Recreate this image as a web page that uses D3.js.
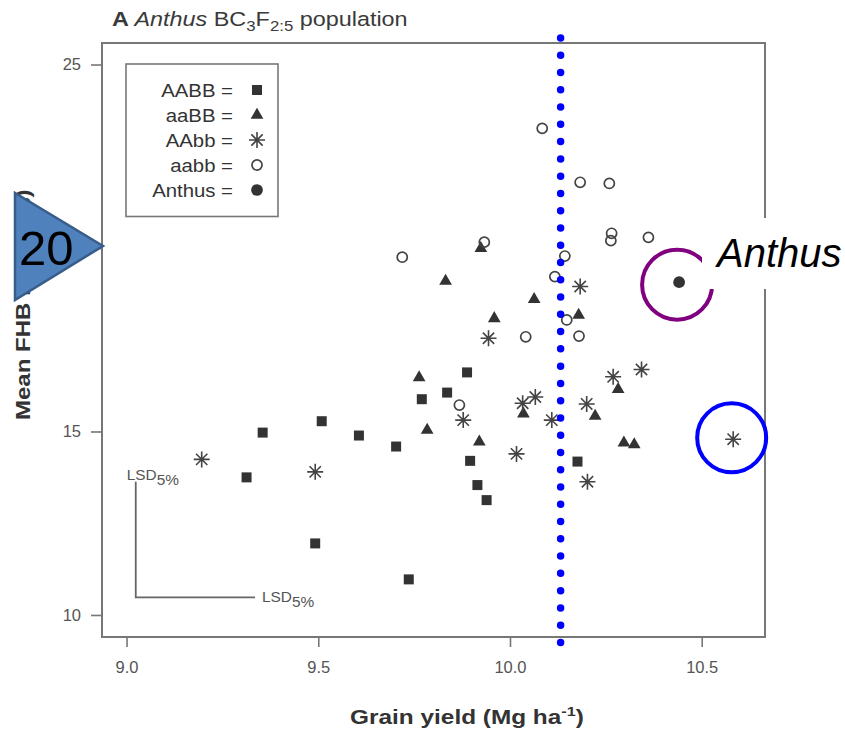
<!DOCTYPE html>
<html>
<head>
<meta charset="utf-8">
<script src="https://cdn.jsdelivr.net/npm/d3@7"></script>
<style>
  body { margin: 0; background: #fff; }
  svg { display: block; }
  text { font-family: "Liberation Sans", Arial, Helvetica, sans-serif; }
</style>
</head>
<body>
<svg id="chart" width="845" height="731"></svg>
<script>
// Genotype classes of the Anthus BC3F2:5 population
const genotypes = ["AABB", "aaBB", "AAbb", "aabb", "Anthus"];

// Grain yield (Mg ha-1) and mean FHB (%) per line, by genotype class
const yieldAABB = [9.355, 9.313, 9.509, 9.606, 9.703, 9.770, 9.836, 9.888, 9.896, 9.915, 9.939, 9.492, 9.736, 10.176];
const fhbAABB   = [14.97, 13.75, 15.28, 14.89, 14.59, 15.88, 16.06, 16.61, 14.20, 13.54, 13.13, 11.95, 10.97, 14.18];

const yieldaaBB = [9.924, 9.832, 10.063, 9.959, 9.763, 9.784, 9.920, 10.035, 10.179, 10.222, 10.282, 10.297, 10.324];
const fhbaaBB   = [19.99, 19.10, 18.60, 18.08, 16.47, 15.04, 14.72, 15.48, 18.17, 15.42, 16.15, 14.69, 14.64];

const yieldAAbb = [9.196, 9.492, 9.878, 9.944, 10.017, 10.033, 10.066, 10.109, 10.183, 10.200, 10.202, 10.269, 10.343, 10.582];
const fhbAAbb   = [14.24, 13.90, 15.31, 17.54, 14.39, 15.77, 15.94, 15.31, 18.95, 15.75, 13.63, 16.49, 16.69, 14.79];

const yieldaabb = [10.084, 10.183, 10.259, 10.265, 10.263, 10.361, 9.933, 9.719, 10.143, 10.117, 10.148, 10.041, 10.180, 9.868];
const fhbaabb   = [23.26, 21.79, 21.76, 20.40, 20.20, 20.29, 20.16, 19.75, 19.78, 19.22, 18.04, 17.58, 17.60, 15.72];

const yieldAnthus = [10.441];
const fhbAnthus   = [19.07];

// Axis ticks
const xTicks = [9.0, 9.5, 10.0, 10.5];
const yTicks = [10, 15, 20, 25];

// Least significant differences (5%) and the corner they are drawn from
const lsdYield = 0.311;
const lsdFHB = 3.15;
const lsdOrigin = [9.024, 10.48];

// Yield threshold marked by the dotted line
const yieldThreshold = 10.132;

// Highlighted lines
const highlightAnthus = { x: yieldAnthus[0], y: fhbAnthus[0] };
const highlightAAbb = { x: yieldAAbb[13], y: fhbAAbb[13] };

// FHB level that gets the enlarged pointer label
const pointerTick = yTicks[2];

const svg = d3.select("#chart");
const plotLeft = 102, plotRight = 765, plotTop = 43, plotBottom = 637;

const x = d3.scaleLinear().domain([8.936, 10.665]).range([plotLeft, plotRight]);
const y = d3.scaleLinear().domain([9.40, 25.586]).range([plotBottom, plotTop]);

const ink = "#333";
const grey = "#555";

// helper: position a text with a slight horizontal stretch
function place(sel, px, py, sx) {
  return sel.attr("transform", `translate(${px},${py}) scale(${sx},1)`);
}

// ---- title
const title = svg.append("text").attr("font-size", 19.5).attr("fill", "#3a3a3a");
place(title, 112, 26, 1.2);
title.append("tspan").attr("font-weight", "bold").text("A ");
title.append("tspan").attr("font-style", "italic").text("Anthus");
title.append("tspan").text(" BC");
title.append("tspan").attr("font-size", 14).attr("dy", 5).text("3");
title.append("tspan").attr("dy", -5).text("F");
title.append("tspan").attr("font-size", 14).attr("dy", 5).text("2:5");
title.append("tspan").attr("dy", -5).text(" population");

// ---- axes
const yAxis = svg.append("g")
  .attr("transform", `translate(${plotLeft},0)`)
  .call(d3.axisLeft(y).tickValues(yTicks).tickSize(11).tickPadding(10).tickFormat(d3.format("d")));
const xAxis = svg.append("g")
  .attr("transform", `translate(0,${plotBottom})`)
  .call(d3.axisBottom(x).tickValues(xTicks).tickSize(10).tickPadding(14).tickFormat(d3.format(".1f")));
[yAxis, xAxis].forEach(g => {
  g.select(".domain").remove();
  g.selectAll("line").attr("stroke", "#777").attr("stroke-width", 1.6);
  g.selectAll("text").attr("fill", grey).attr("font-size", 16.5)
    .attr("font-family", "'Liberation Sans', Arial, sans-serif");
});
// the pointer label below replaces the plain tick label at this level
yAxis.selectAll(".tick").filter(d => d === pointerTick).select("text").remove();

// frame
svg.append("rect")
  .attr("x", plotLeft).attr("y", plotTop)
  .attr("width", plotRight - plotLeft).attr("height", plotBottom - plotTop)
  .attr("fill", "none").attr("stroke", "#777").attr("stroke-width", 2);

// axis titles
const xt = svg.append("text").attr("font-size", 19.5).attr("font-weight", "bold")
  .attr("fill", ink).attr("text-anchor", "middle");
place(xt, 467, 724, 1.25);
xt.append("tspan").text("Grain yield (Mg ha");
xt.append("tspan").attr("font-size", 13).attr("dy", -8).text("-1");
xt.append("tspan").attr("dy", 8).text(")");

svg.append("text").attr("font-size", 24).attr("font-weight", "bold")
  .attr("fill", ink).attr("text-anchor", "start")
  .attr("transform", "translate(29.5,420) scale(0.84,1) rotate(-90)")
  .text("Mean FHB index (%)");

// ---- marker shapes
const asterisk = {
  draw(ctx, size) {
    const r = Math.sqrt(size) / 2;
    const d = r * Math.SQRT1_2;
    ctx.moveTo(-r, 0); ctx.lineTo(r, 0);
    ctx.moveTo(0, -r); ctx.lineTo(0, r);
    ctx.moveTo(-d, -d); ctx.lineTo(d, d);
    ctx.moveTo(-d, d); ctx.lineTo(d, -d);
  }
};

const styles = {
  AABB:   { path: d3.symbol(d3.symbolSquare, 100)(), fill: ink, stroke: "none", sw: 0 },
  aaBB:   { path: d3.symbol(d3.symbolTriangle, 70)(), fill: ink, stroke: "none", sw: 0 },
  AAbb:   { path: d3.symbol(asterisk, 256)(), fill: "none", stroke: "#444", sw: 1.6 },
  aabb:   { path: d3.symbol(d3.symbolCircle, 80)(), fill: "none", stroke: "#444", sw: 1.7 },
  Anthus: { path: d3.symbol(d3.symbolCircle, 108)(), fill: ink, stroke: "none", sw: 0 }
};

const groups = [
  { key: "AABB", xs: yieldAABB, ys: fhbAABB },
  { key: "aaBB", xs: yieldaaBB, ys: fhbaaBB },
  { key: "AAbb", xs: yieldAAbb, ys: fhbAAbb },
  { key: "aabb", xs: yieldaabb, ys: fhbaabb },
  { key: "Anthus", xs: yieldAnthus, ys: fhbAnthus }
];

const pts = svg.append("g");
groups.forEach(gr => {
  const st = styles[gr.key];
  pts.selectAll(null)
    .data(gr.xs.map((v, i) => ({ x: v, y: gr.ys[i] })))
    .join("path")
    .attr("d", st.path)
    .attr("transform", d => `translate(${x(d.x)},${y(d.y)})`)
    .attr("fill", st.fill)
    .attr("stroke", st.stroke)
    .attr("stroke-width", st.sw);
});

// ---- legend
const lg = svg.append("g");
lg.append("rect").attr("x", 126).attr("y", 64).attr("width", 152).attr("height", 152.5)
  .attr("fill", "#fff").attr("stroke", "#777").attr("stroke-width", 1.6);
genotypes.forEach((g, i) => {
  const cy = 90 + i * 25;
  const t = lg.append("text").attr("font-size", 18.5).attr("fill", ink)
    .attr("text-anchor", "end").text(g + " =");
  place(t, 233, cy + 6.5, 1.1);
  const st = styles[g];
  lg.append("path").attr("d", st.path)
    .attr("transform", `translate(257,${cy})`)
    .attr("fill", st.fill).attr("stroke", st.stroke).attr("stroke-width", st.sw);
});

// ---- LSD bracket
const lsd = svg.append("g");
lsd.append("path")
  .attr("d", d3.line()([
    [x(lsdOrigin[0]), y(lsdOrigin[1] + lsdFHB)],
    [x(lsdOrigin[0]), y(lsdOrigin[1])],
    [x(lsdOrigin[0] + lsdYield), y(lsdOrigin[1])]
  ]))
  .attr("fill", "none").attr("stroke", "#666").attr("stroke-width", 1.8);
function lsdLabel(px, py) {
  const t = lsd.append("text").attr("font-size", 14).attr("fill", grey);
  place(t, px, py, 1.1);
  t.append("tspan").text("LSD");
  t.append("tspan").attr("dy", 5).text("5%");
}
lsdLabel(x(lsdOrigin[0]) - 9, y(lsdOrigin[1] + lsdFHB) - 2);
lsdLabel(x(lsdOrigin[0] + lsdYield) + 7, y(lsdOrigin[1]) + 4.5);

// ---- threshold dotted line
svg.append("line")
  .attr("x1", x(yieldThreshold)).attr("x2", x(yieldThreshold))
  .attr("y1", 38).attr("y2", 642.5)
  .attr("stroke", "#0000ff").attr("stroke-width", 7.5)
  .attr("stroke-linecap", "round")
  .attr("stroke-dasharray", "0,17.27");

// ---- highlight rings
svg.append("circle")
  .attr("cx", x(highlightAnthus.x) - 2).attr("cy", y(highlightAnthus.y) + 2.5).attr("r", 35)
  .attr("fill", "none").attr("stroke", "#800080").attr("stroke-width", 4);
svg.append("circle")
  .attr("cx", x(highlightAAbb.x) - 1.5).attr("cy", y(highlightAAbb.y) - 1.5).attr("r", 34.5)
  .attr("fill", "none").attr("stroke", "#0000ff").attr("stroke-width", 4);

// ---- "Anthus" callout
svg.append("rect").attr("x", 702).attr("y", 218).attr("width", 143).attr("height", 71).attr("fill", "#fff");
svg.append("text").attr("x", 717).attr("y", 267).attr("font-size", 40)
  .attr("font-style", "italic").attr("fill", "#000").text("Anthus");

// ---- enlarged pointer label for the 20 % level
const yp = y(pointerTick);
svg.append("polygon")
  .attr("points", [[15, yp - 55], [15, yp + 52], [103, yp - 2]].map(p => p.join(",")).join(" "))
  .attr("fill", "#4f81bd").attr("stroke", "#385d8a").attr("stroke-width", 2.5);
svg.append("text").attr("x", 19).attr("y", yp + 17).attr("font-size", 49).attr("fill", "#000")
  .text(d3.format("d")(pointerTick));
</script>
</body>
</html>
